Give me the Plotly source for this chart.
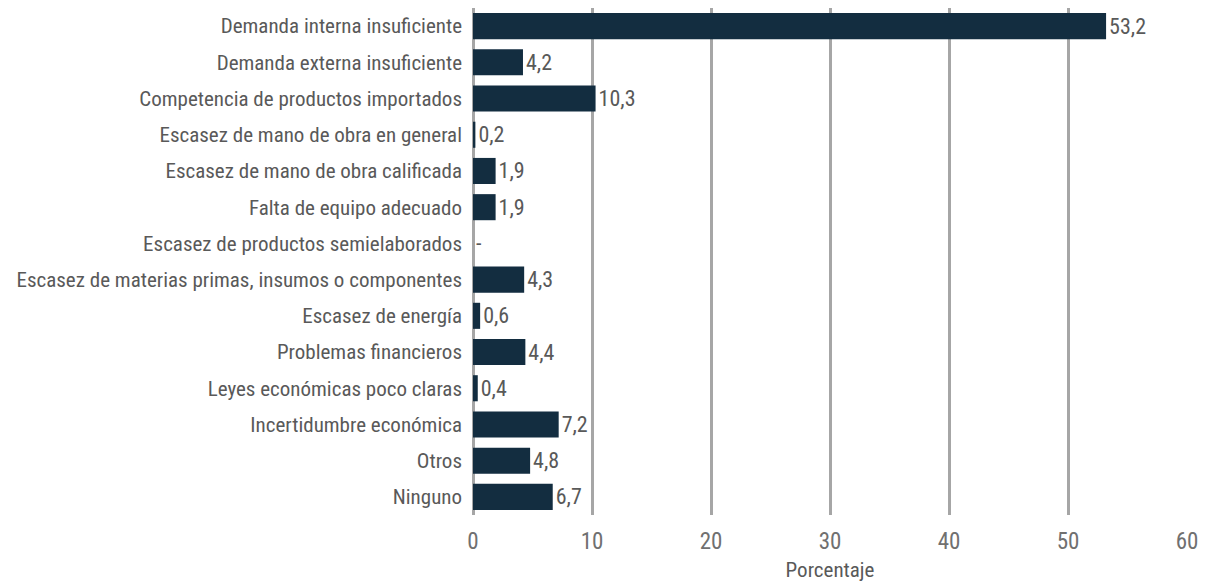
import plotly.graph_objects as go

categories = [
    "Demanda interna insuficiente",
    "Demanda externa insuficiente",
    "Competencia de productos importados",
    "Escasez de mano de obra en general",
    "Escasez de mano de obra calificada",
    "Falta de equipo adecuado",
    "Escasez de productos semielaborados",
    "Escasez de materias primas, insumos o componentes",
    "Escasez de energía",
    "Problemas financieros",
    "Leyes económicas poco claras",
    "Incertidumbre económica",
    "Otros",
    "Ninguno",
]
values = [53.2, 4.2, 10.3, 0.2, 1.9, 1.9, 0.0, 4.3, 0.6, 4.4, 0.4, 7.2, 4.8, 6.7]
tick_vals = [0, 10, 20, 30, 40, 50, 60]

labels = ["-" if v == 0 else f"{v:.1f}".replace(".", ",") for v in values]

FONT = "Liberation Sans Narrow, Roboto Condensed, DejaVu Sans Condensed, Arial Narrow, sans-serif"
GRAY = "#595959"
TICKGRAY = "#707070"

fig = go.Figure(
    go.Bar(
        x=values,
        y=categories,
        orientation="h",
        marker=dict(color="#132d40", line=dict(width=0)),
        width=0.72,
        text=labels,
        textposition="outside",
        textfont=dict(family=FONT, size=22, color=GRAY),
        cliponaxis=False,
    )
)

fig.update_layout(
    width=1200,
    height=574,
    margin=dict(l=465, r=21, t=0, b=67),
    plot_bgcolor="white",
    paper_bgcolor="white",
    showlegend=False,
    font=dict(family=FONT, color=GRAY),
)
fig.update_xaxes(
    range=[0, 60],
    tickvals=tick_vals,
    showgrid=True,
    gridcolor="#a6a6a6",
    gridwidth=3,
    zeroline=True,
    zerolinecolor="#a6a6a6",
    zerolinewidth=3,
    showline=False,
    tickfont=dict(family=FONT, size=23, color=TICKGRAY),
    title=dict(text="Porcentaje", font=dict(family=FONT, size=21, color=GRAY), standoff=8),
    ticklabelstandoff=10,
)
fig.update_yaxes(
    categoryorder="array",
    categoryarray=categories,
    autorange="reversed",
    showgrid=False,
    tickfont=dict(family=FONT, size=21, color=GRAY),
    ticklabelstandoff=10,
)

fig.write_html("out.html")
